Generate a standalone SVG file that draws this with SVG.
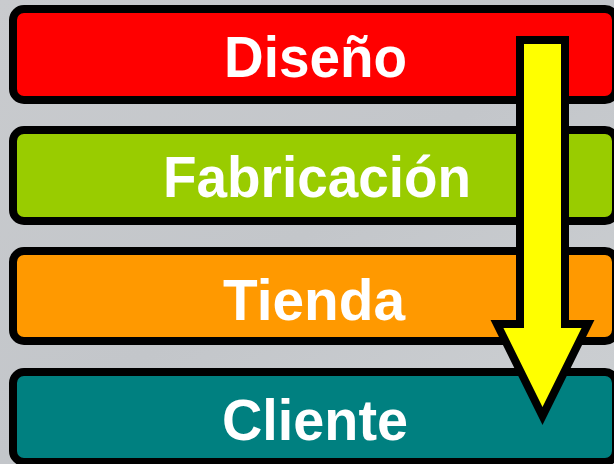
<svg xmlns="http://www.w3.org/2000/svg" width="614" height="464" viewBox="0 0 614 464">
<defs>
<style>
.box{stroke:#000;stroke-width:8}
.lbl{font-family:"Liberation Sans",Arial,sans-serif;font-weight:bold;font-size:57px;fill:#fff;text-anchor:middle}
</style>
<linearGradient id="bg" x1="0" y1="0" x2="1" y2="1">
<stop offset="0" stop-color="#c9cbce"/>
<stop offset="0.5" stop-color="#c3c6ca"/>
<stop offset="1" stop-color="#cdd0d3"/>
</linearGradient>
</defs>
<rect width="614" height="464" fill="url(#bg)"/>
<g id="node-diseno">
<rect class="box" x="13" y="9" width="603" height="91" rx="11" fill="#ff0000"/>
<text class="lbl" x="315.5" y="77" textLength="183" lengthAdjust="spacingAndGlyphs">Diseño</text>
</g>
<g id="node-fabricacion">
<rect class="box" x="13" y="130" width="603" height="91" rx="11" fill="#99cc00"/>
<text class="lbl" x="317" y="197" textLength="308" lengthAdjust="spacingAndGlyphs">Fabricación</text>
</g>
<g id="node-tienda">
<rect class="box" x="13" y="251" width="603" height="90" rx="11" fill="#ff9900"/>
<text class="lbl" x="314" y="320" textLength="182" lengthAdjust="spacingAndGlyphs">Tienda</text>
</g>
<g id="node-cliente">
<rect class="box" x="13" y="372" width="603" height="90" rx="11" fill="#008080"/>
<text class="lbl" x="315" y="440" textLength="186" lengthAdjust="spacingAndGlyphs">Cliente</text>
</g>
<g id="connectors">
<polygon points="520,40 565,40 565,324 588,324 542.5,416 497,324 520,324" fill="#ffff00" stroke="#000" stroke-width="8" stroke-miterlimit="10"/>
</g>
</svg>
